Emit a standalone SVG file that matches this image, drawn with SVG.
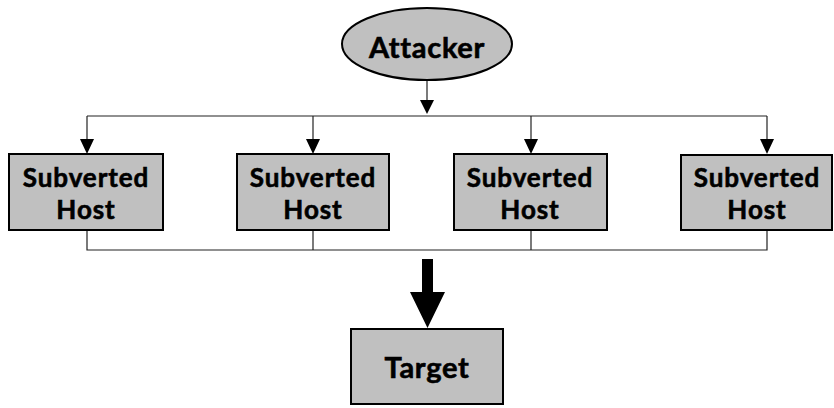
<svg xmlns="http://www.w3.org/2000/svg" width="834" height="408" viewBox="0 0 834 408">
<style>
.node{fill:#c0c0c0;stroke:#000;stroke-width:2}
.lbl{font-family:Lato,"Open Sans","DejaVu Sans",sans-serif;font-weight:bold;fill:#000;stroke:#000;stroke-width:0.6;text-anchor:middle}
.sub{font-size:26px;letter-spacing:0.9px}
.big{font-size:29px;letter-spacing:0.7px}
.ln{fill:none;stroke:#222;stroke-width:1.2}
.ah{fill:#000}
</style>
<rect width="834" height="408" fill="#fff"/>
<g id="connectors">
<line class="ln" x1="427" y1="80" x2="427" y2="102"/>
<path class="ah" d="M420,100 L434,100 L427,114 Z"/>
<line class="ln" x1="87" y1="116" x2="767" y2="116"/>
<line class="ln" x1="87" y1="116" x2="87" y2="141"/>
<path class="ah" d="M80,139 L94,139 L87,154 Z"/>
<line class="ln" x1="313" y1="116" x2="313" y2="141"/>
<path class="ah" d="M306,139 L320,139 L313,154 Z"/>
<line class="ln" x1="531" y1="116" x2="531" y2="141"/>
<path class="ah" d="M524,139 L538,139 L531,154 Z"/>
<line class="ln" x1="767" y1="116" x2="767" y2="141"/>
<path class="ah" d="M760,139 L774,139 L767,154 Z"/>
<polyline class="ln" points="87,230 87,250 767,250 767,230"/>
<line class="ln" x1="313" y1="230" x2="313" y2="250"/>
<line class="ln" x1="531" y1="230" x2="531" y2="250"/>
<path class="ah" d="M422,259 L433,259 L433,292 L445,292 L427.5,328 L410,292 L422,292 Z"/>
</g>
<g id="attacker">
<ellipse class="node" cx="427" cy="44" rx="85" ry="36"/>
<text class="lbl big" x="427" y="58">Attacker</text>
</g>
<g id="host1">
<rect class="node" x="9" y="154" width="154" height="76"/>
<text class="lbl sub" x="86" y="187">Subverted</text>
<text class="lbl sub" x="86" y="219">Host</text>
</g>
<g id="host2">
<rect class="node" x="237" y="154" width="152" height="76"/>
<text class="lbl sub" x="313" y="187">Subverted</text>
<text class="lbl sub" x="313" y="219">Host</text>
</g>
<g id="host3">
<rect class="node" x="454" y="154" width="153" height="76"/>
<text class="lbl sub" x="530" y="187">Subverted</text>
<text class="lbl sub" x="530" y="219">Host</text>
</g>
<g id="host4">
<rect class="node" x="681" y="155" width="151" height="75"/>
<text class="lbl sub" x="757" y="187">Subverted</text>
<text class="lbl sub" x="757" y="219">Host</text>
</g>
<g id="target">
<rect class="node" x="351" y="329" width="152" height="75"/>
<text class="lbl big" x="427" y="378">Target</text>
</g>
</svg>
